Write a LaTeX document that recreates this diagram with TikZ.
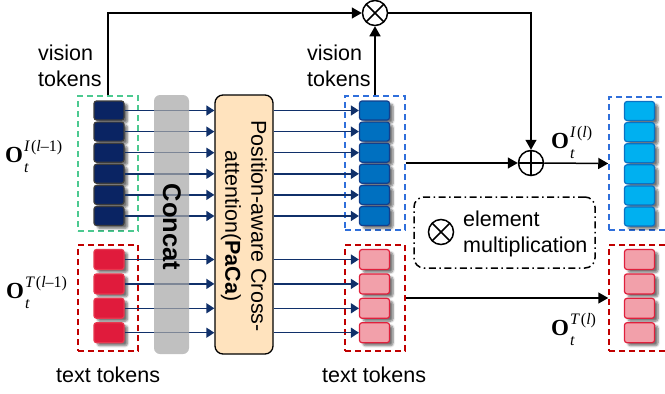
\documentclass[tikz,border=0pt]{standalone}
\usepackage{fontspec}
\setmainfont{Liberation Sans}
\newfontfamily\lsr{Liberation Serif}
\usetikzlibrary{arrows.meta,shadows.blur}
\definecolor{navytok}{HTML}{0A2463}
\definecolor{navyedge}{HTML}{3C3C3C}
\definecolor{midblue}{HTML}{0070C0}
\definecolor{midblueedge}{HTML}{123F8C}
\definecolor{skyblue}{HTML}{00B0F0}
\definecolor{skyedge}{HTML}{0A72C4}
\definecolor{redtok}{HTML}{E01B3C}
\definecolor{redtokedge}{HTML}{E8384F}
\definecolor{pinktok}{HTML}{F2A0AA}
\definecolor{pinkedge}{HTML}{E0203C}
\definecolor{greendash}{HTML}{4CC990}
\definecolor{reddash}{HTML}{C00000}
\definecolor{bluedash}{HTML}{2F6FDB}
\definecolor{arrnavy}{HTML}{10306A}
\definecolor{concatgray}{HTML}{A8A8A8}
\definecolor{pacafill}{HTML}{FFE3BE}
\newcommand\OL[1]{{\lsr\fontsize{23}{23}\selectfont\bfseries O}\kern1pt\makebox[0pt][l]{\raisebox{-10pt}{\lsr\itshape\fontsize{16}{16}\selectfont t}}\raisebox{10.5pt}{\lsr\fontsize{16}{16}\selectfont #1}}
\tikzset{
  tok/.style={rounded corners=2.5pt, minimum width=30pt, minimum height=19pt, inner sep=0pt, line width=1.2pt,
    blur shadow={shadow xshift=3.5pt, shadow yshift=-3pt, shadow blur steps=6, shadow opacity=55}},
  ttok/.style={tok, minimum height=20pt},
  dbox/.style={draw, line width=1.5pt, dash pattern=on 6pt off 4pt, inner sep=0pt, minimum width=60pt},
  navarr/.style={draw=arrnavy, line width=1.4pt, -{Triangle[length=8pt,width=10pt]}},
  blk/.style={draw=black, line width=1.5pt, -{Triangle[length=10pt,width=11pt]}},
  opnode/.style={circle, draw, line width=1.5pt, minimum size=25pt, inner sep=0pt},
  lab/.style={inner sep=0pt, font=\fontsize{21.5}{25.5}\selectfont, align=left},
}
\begin{document}
\begin{tikzpicture}[x=1pt,y=-1pt]
\useasboundingbox (0,0) rectangle (665,394);
\clip (0,0) rectangle (665,394);

% dashed group boxes
\node[dbox, draw=greendash, minimum height=135pt] (lvbox) at (108,163.5) {};
\node[dbox, draw=reddash, minimum height=106pt] (ltbox) at (108,298) {};
\node[dbox, draw=bluedash, minimum height=134pt] (mvbox) at (375,163) {};
\node[dbox, draw=reddash, minimum height=106pt] (mtbox) at (375,298) {};
\node[dbox, draw=bluedash, minimum height=133pt] (fvbox) at (639,163.5) {};
\node[dbox, draw=reddash, minimum height=106pt] (ftbox) at (639,298) {};

% PaCa box
\node[draw, line width=1.3pt, fill=pacafill, rounded corners=8pt, minimum width=58pt, minimum height=259pt, inner sep=0pt] (paca) at (244,224.5) {};
\node[rotate=-90, align=center, inner sep=0pt, font=\fontsize{21.5}{26}\selectfont] (pacatext) at (244,226) {Position-aware Cross-\\attention(\textbf{PaCa})};

% tokens
\foreach \i in {0,...,5} {
  \node[tok, fill=navytok, draw=navyedge] (lv\i) at ({109},{110.5+21.1*\i}) {};
  \node[tok, fill=midblue, draw=midblueedge] (mv\i) at ({374.5},{110.5+21.1*\i}) {};
  \node[tok, fill=skyblue, draw=skyedge] (fv\i) at ({639.5},{111+21.1*\i}) {};
}
\foreach \i in {0,...,3} {
  \node[ttok, fill=redtok, draw=redtokedge] (lt\i) at ({109},{259.5+24.4*\i}) {};
  \node[ttok, fill=pinktok, draw=pinkedge] (mt\i) at ({374.5},{259.5+24.4*\i}) {};
  \node[ttok, fill=pinktok, draw=pinkedge] (ft\i) at ({639.5},{259.5+24.4*\i}) {};
}

% navy arrows
\foreach \i in {0,...,5} {
  \draw[navarr] (lv\i.east) -- (lv\i.east -| paca.west);
  \draw[navarr] (mv\i.west -| paca.east) -- (mv\i.west);
}
\foreach \i in {0,...,3} {
  \draw[navarr] (lt\i.east) -- (lt\i.east -| paca.west);
  \draw[navarr] (mt\i.west -| paca.east) -- (mt\i.west);
}

% Concat bar (over the arrows)
\node[fill=concatgray, fill opacity=0.72, rounded corners=6pt, minimum width=35pt, minimum height=259pt, inner sep=0pt] (concat) at (171.5,224.5) {};
\node[rotate=-90, inner sep=0pt, font=\fontsize{25.5}{26}\selectfont\bfseries] (concattext) at (172,227) {Concat};

% operators
\node[opnode, path picture={\draw[line width=1.5pt] (path picture bounding box.north west) -- (path picture bounding box.south east) (path picture bounding box.north east) -- (path picture bounding box.south west);}] (ot) at (375,13) {};
\node[opnode, path picture={\draw[line width=1.5pt] (path picture bounding box.north) -- (path picture bounding box.south) (path picture bounding box.west) -- (path picture bounding box.east);}] (op) at (531,163) {};

% black connectors
\draw[blk] (lvbox.north) |- (ot.west);
\draw[blk] (mvbox.north) -- (ot.south);
\draw[blk] (ot.east) -| (op.north);
\draw[blk] (mvbox.east) -- (op.west);
\draw[blk] (op.east) -- (fvbox.west);
\draw[blk] (mtbox.east) -- (ftbox.west);

% legend
\node[draw, line width=1.5pt, dash pattern=on 7pt off 3.5pt on 1.5pt off 3.5pt, rounded corners=10pt, minimum width=181pt, minimum height=71pt, inner sep=0pt] (legend) at (504.5,232.5) {};
\node[opnode, path picture={\draw[line width=1.5pt] (path picture bounding box.north west) -- (path picture bounding box.south east) (path picture bounding box.north east) -- (path picture bounding box.south west);}] (legot) at (441,232) {};
\node[lab, anchor=base west] (legtext) at (463,252) {element\\multiplication};

% text labels
\node[lab, anchor=base west] (vtl) at (38,86) {vision\\tokens};
\node[lab, anchor=base west] (vtm) at (307,86) {vision\\tokens};
\node[lab, anchor=base west] (ttl) at (56,382) {text tokens};
\node[lab, anchor=base west] (ttm) at (322,382) {text tokens};

% math labels
\node[inner sep=0pt, anchor=base west] (oil) at (5,162) {\OL{\textit{I}\kern1pt(\textit{l}–1)}};
\node[inner sep=0pt, anchor=base west] (otl) at (6,298) {\OL{\textit{T}\kern1pt(\textit{l}–1)}};
\node[inner sep=0pt, anchor=base west] (oir) at (551,148) {\OL{\textit{I}\kern1pt(\textit{l})}};
\node[inner sep=0pt, anchor=base west] (otr) at (551,335) {\OL{\textit{T}\kern1pt(\textit{l})}};
\end{tikzpicture}
\end{document}
